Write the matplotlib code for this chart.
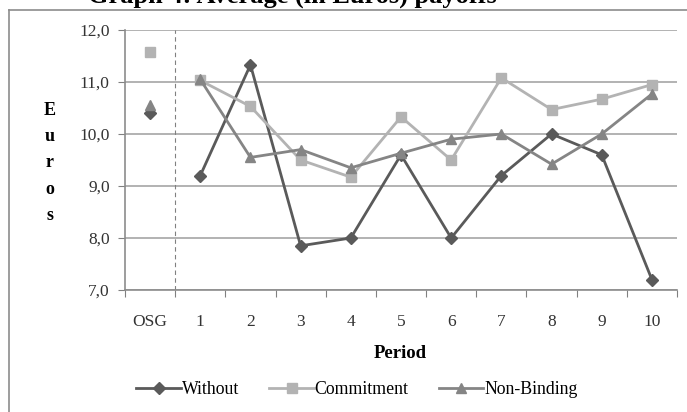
import numpy as np
import matplotlib.pyplot as plt
from matplotlib.lines import Line2D

# categories on the x axis: one-shot game first, then the periods
categories = ["OSG", "1", "2", "3", "4", "5", "6", "7", "8", "9", "10"]

# average payoffs in Euros
without = [10.40, 9.20, 11.33, 7.85, 8.00, 9.60, 8.00, 9.20, 10.00, 9.60, 7.20]
commitment = [11.58, 11.03, 10.53, 9.50, 9.17, 10.33, 9.50, 11.08, 10.47, 10.67, 10.95]
non_binding = [10.55, 11.05, 9.55, 9.70, 9.35, 9.63, 9.90, 10.00, 9.42, 10.00, 10.77]

y_ticks = [7.0, 8.0, 9.0, 10.0, 11.0, 12.0]

plt.rcParams['font.family'] = ['Liberation Serif', 'DejaVu Serif']

fig = plt.figure(figsize=(6.87, 4.12), dpi=100)
ax = fig.add_axes([125 / 687, 1 - 290 / 412, 552 / 687, 260 / 412])

x = np.arange(len(categories))

# OSG point is drawn alone, the periods are joined by a line
series = [
    (without, "#5a5a5a", "D", 6, "Without"),
    (commitment, "#b3b3b3", "s", 7, "Commitment"),
    (non_binding, "#858585", "^", 7, "Non-Binding"),
]
handles = []
for vals, col, mk, ms, name in series:
    ax.plot(x[1:], vals[1:], color=col, lw=2, marker=mk, ms=ms, zorder=3)
    ax.plot(x[:1], vals[:1], color=col, lw=0, marker=mk, ms=ms, zorder=3)
    handles.append(Line2D([], [], color=col, lw=2, marker=mk, ms=ms, label=name))

ax.set_xlim(-0.5, len(categories) - 0.5)
ax.set_ylim(7.0, 12.0)

# dashed separator between OSG and the periods
ax.axvline(0.5, color="#808080", lw=0.8, ls=(0, (4, 3)), zorder=2)

ax.set_yticks(y_ticks)
ax.set_yticklabels([("%.1f" % v).replace(".", ",") for v in y_ticks])
ax.yaxis.grid(True, color="#a6a6a6", lw=1.2)
ax.set_axisbelow(True)

ax.set_xticks(np.arange(len(categories) + 1) - 0.5)
ax.set_xticklabels([])
ax.set_xticks(x, minor=True)
ax.set_xticklabels(categories, minor=True)
ax.tick_params(axis="x", which="major", direction="out", length=5, color="#808080")
ax.tick_params(axis="x", which="minor", length=0, pad=17, labelsize=12.5, labelcolor="#333333")
ax.tick_params(axis="y", direction="out", length=5, color="#808080", pad=6,
               labelsize=12.5, labelcolor="#333333")

for side in ["top", "right"]:
    ax.spines[side].set_visible(False)
for side in ["left", "bottom"]:
    ax.spines[side].set_color("#8c8c8c")
    ax.spines[side].set_linewidth(1.2)

# axis titles
fig.text(400 / 687, 1 - 353 / 412, "Period", ha="center", va="center",
         fontsize=13.5, fontweight="bold")
fig.text(50 / 687, 1 - 163 / 412, "E\nu\nr\no\ns", ha="center", va="center",
         fontsize=13, fontweight="bold", linespacing=1.7)

fig.legend(handles=handles, loc="center", bbox_to_anchor=(357 / 687, 1 - 390 / 412),
           ncol=3, frameon=False, fontsize=12.8, handlelength=2.5, columnspacing=1.7,
           handletextpad=0.05)

# chart border and the title cut at the top edge
fig.add_artist(Line2D([9 / 687, 9 / 687], [0, 1 - 10 / 412], color="#8c8c8c", lw=1.2,
                      transform=fig.transFigure))
fig.add_artist(Line2D([9 / 687, 1], [1 - 10 / 412, 1 - 10 / 412], color="#8c8c8c", lw=1.2,
                      transform=fig.transFigure))
fig.text(88 / 687, 1 - 3 / 412, "Graph 4: Average (in Euros) payoffs", ha="left",
         va="baseline", fontsize=19, fontweight="bold")

fig.savefig("out.png", dpi=100)
